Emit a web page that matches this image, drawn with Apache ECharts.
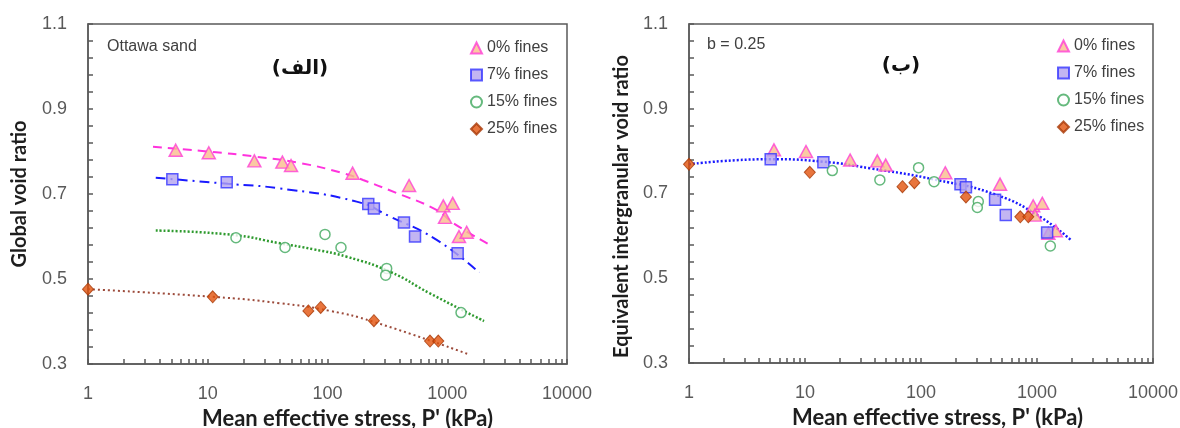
<!DOCTYPE html>
<html>
<head>
<meta charset="utf-8">
<script src="https://cdn.jsdelivr.net/npm/echarts@6/dist/echarts.min.js"></script>
<style>
html,body{margin:0;padding:0;background:#fff;}
#chart{width:1180px;height:428px;}
</style>
</head>
<body>
<div id="chart"></div>
<script>
// ---------- data ----------
const seriesNames = ['0% fines', '7% fines', '15% fines', '25% fines'];
const xTickLabels = [1, 10, 100, 1000, 10000];
const yTickLabels = [0.3, 0.5, 0.7, 0.9, 1.1];

// 0% fines
const P0  = [5.4, 10.2, 24.5, 42, 49.6, 162, 480, 927, 1111, 958, 1253, 1453];
const e0  = [0.803, 0.797, 0.778, 0.775, 0.767, 0.749, 0.720, 0.672, 0.678, 0.645, 0.600, 0.610];
const eq0 = [0.803, 0.799, 0.779, 0.777, 0.767, 0.749, 0.722, 0.671, 0.677, 0.649, 0.606, 0.612];
// 7% fines
const P7  = [5.06, 14.4, 219, 244, 435, 538, 1222];
const e7  = [0.735, 0.7275, 0.6765, 0.666, 0.633, 0.600, 0.5605];
const eq7 = [0.781, 0.774, 0.722, 0.715, 0.685, 0.649, 0.608];
// 15% fines
const P15  = [17.2, 44.2, 95.3, 129.6, 312, 306, 1303];
const e15  = [0.597, 0.574, 0.605, 0.574, 0.525, 0.509, 0.421];
const eq15 = [0.754, 0.732, 0.761, 0.728, 0.681, 0.667, 0.576];
// 25% fines
const P25  = [1.0, 11.0, 69.2, 87.7, 244, 718, 842];
const e25  = [0.476, 0.458, 0.425, 0.433, 0.402, 0.354, 0.354];
const eq25 = [0.769, 0.750, 0.716, 0.7255, 0.692, 0.645, 0.645];

// trend curves
const fit0P  = [3.49, 10, 25, 58.9, 135, 198, 380, 820, 1117, 2275];
const fit0E  = [0.811, 0.800, 0.788, 0.773, 0.749, 0.733, 0.702, 0.662, 0.632, 0.580];
const fit7P  = [3.68, 14.8, 40.1, 175, 333, 816, 1852];
const fit7E  = [0.738, 0.724, 0.713, 0.682, 0.647, 0.592, 0.515];
const fit15P = [3.68, 16, 40.1, 76.1, 144.5, 333, 718, 2027];
const fit15E = [0.614, 0.604, 0.584, 0.570, 0.5525, 0.517, 0.466, 0.401];
const fit25P = [1, 11.1, 40.1, 105, 241, 1482];
const fit25E = [0.476, 0.458, 0.443, 0.425, 0.3995, 0.3235];
const fitEqP = [1, 4.99, 14.4, 36.3, 136.5, 449, 1061, 1991];
const fitEqE = [0.769, 0.781, 0.775, 0.7595, 0.732, 0.6965, 0.645, 0.5886];

// ---------- helpers ----------
const zip = (xs, ys) => xs.map((x, i) => [x, ys[i]]);
const minorLogTicks = [];
for (let d = 0; d < 4; d++) for (let k = 1; k <= 10; k++) minorLogTicks.push(d + Math.log10(k));

const AXIS_COLOR = '#5a5a5a';
const LABEL_COLOR = '#595959';
const TITLE_FONT = 'Lato';

const styles = [
  {symbol: 'triangle', symbolSize: [13, 12], itemStyle: {color: '#f9bb8c', borderColor: '#ff3fd4', borderWidth: 1.5}},
  {symbol: 'rect', symbolSize: 11, itemStyle: {color: '#b3a3ef', borderColor: '#3535ff', borderWidth: 1.5}},
  {symbol: 'circle', symbolSize: 10, itemStyle: {color: '#ffffff', borderColor: '#3fa85c', borderWidth: 1.5}},
  {symbol: 'diamond', symbolSize: [11, 12], itemStyle: {color: '#e2520c', borderColor: '#a83a08', borderWidth: 1}}
];

function scatter(i, xIdx, yIdx, P, E) {
  return Object.assign({
    type: 'scatter', name: seriesNames[i], xAxisIndex: xIdx, yAxisIndex: yIdx,
    data: zip(P, E), z: 5, silent: true
  }, styles[i]);
}
function curve(xIdx, yIdx, P, E, color, width, dash) {
  return {
    type: 'line', xAxisIndex: xIdx, yAxisIndex: yIdx, data: zip(P, E),
    smooth: 0.5, showSymbol: false, symbol: 'none', z: 2, silent: true,
    lineStyle: {color: color, width: width, type: dash}
  };
}

function logAxis(grid, name, shift) {
  return {
    type: 'log', gridIndex: grid, logBase: 10, min: 1, max: 10000, splitNumber: 4,
    name: name, nameLocation: 'middle', nameGap: 42,
    nameTextStyle: {fontFamily: TITLE_FONT, fontWeight: 'bold', fontSize: 22, color: '#1e1e1e', padding: [0, 0, 0, shift]},
    axisLine: {show: true, lineStyle: {color: AXIS_COLOR, width: 1.5}},
    axisTick: {show: false},
    axisLabel: {margin: 21, fontSize: 18, color: LABEL_COLOR, fontFamily: 'Liberation Sans',
      customValues: xTickLabels, formatter: v => String(Math.round(v))},
    splitLine: {show: false}, minorTick: {show: false}
  };
}
function minorAxis(grid) {
  return {
    type: 'value', gridIndex: grid, min: 0, max: 4, position: 'bottom',
    axisLine: {show: false}, axisLabel: {show: false}, splitLine: {show: false},
    axisTick: {show: true, inside: true, length: 5, customValues: minorLogTicks,
      lineStyle: {color: AXIS_COLOR, width: 1.5}}
  };
}
function valueAxis(grid, name, gap, shiftDown) {
  return {
    type: 'value', gridIndex: grid, min: 0.3, max: 1.1, interval: 0.2,
    name: name, nameLocation: 'middle', nameGap: gap,
    nameTextStyle: {fontFamily: TITLE_FONT, fontWeight: 'bold', fontSize: 20, color: '#1e1e1e',
      padding: [0, 2 * shiftDown, 0, 0]},
    axisLine: {show: true, lineStyle: {color: AXIS_COLOR, width: 1.5}},
    axisTick: {show: true, inside: true, length: 5, lineStyle: {color: AXIS_COLOR, width: 1.5}},
    minorTick: {show: true, splitNumber: 5, length: 5, lineStyle: {color: AXIS_COLOR, width: 1.5}},
    axisLabel: {margin: 21, fontSize: 18, color: LABEL_COLOR, fontFamily: 'Liberation Sans',
      formatter: v => v.toFixed(1)},
    splitLine: {show: false}
  };
}
function legend(left, top) {
  return {
    data: seriesNames, orient: 'vertical', left: left, top: top,
    itemWidth: 11, itemHeight: 11, itemGap: 11, selectedMode: false,
    textStyle: {fontSize: 16, fontFamily: 'Liberation Sans', color: '#404040'}
  };
}

const option = {
  animation: false,
  backgroundColor: '#ffffff',
  grid: [
    {left: 88, top: 24, width: 479, height: 340, show: true, borderColor: AXIS_COLOR, borderWidth: 1.5,
      backgroundColor: 'transparent', containLabel: false, outerBoundsMode: 'none'},
    {left: 689, top: 24, width: 464, height: 339, show: true, borderColor: AXIS_COLOR, borderWidth: 1.5,
      backgroundColor: 'transparent', containLabel: false, outerBoundsMode: 'none'}
  ],
  xAxis: [
    logAxis(0, "Mean effective stress, P' (kPa)", 40),
    minorAxis(0),
    logAxis(1, "Mean effective stress, P' (kPa)", 33),
    minorAxis(1)
  ],
  yAxis: [
    valueAxis(0, 'Global void ratio', 58, 0),
    valueAxis(1, 'Equivalent intergranular void ratio', 57, 13)
  ],
  legend: [legend(465, 35), legend(1052, 33)],
  graphic: [
    {type: 'text', left: 107, top: 39, style: {text: 'Ottawa sand', font: '16px "Liberation Sans"', fill: '#404040'}},
    {type: 'text', left: 707, top: 37, style: {text: 'b = 0.25', font: '16px "Liberation Sans"', fill: '#404040'}},
    {type: 'text', x: 300, y: 69, style: {text: '(الف)', font: 'bold 20px "DejaVu Sans"', fill: '#111', align: 'center', verticalAlign: 'middle'}},
    {type: 'text', x: 901, y: 66, style: {text: '(ب)', font: 'bold 20px "DejaVu Sans"', fill: '#111', align: 'center', verticalAlign: 'middle'}}
  ],
  series: [
    curve(0, 0, fit0P, fit0E, '#ff33dd', 2, [9, 6]),
    curve(0, 0, fit7P, fit7E, '#1a1aff', 2, [10, 5, 2, 5]),
    curve(0, 0, fit15P, fit15E, '#2e9a2e', 2.5, [2, 2]),
    curve(0, 0, fit25P, fit25E, '#9c4a3a', 2, [2, 3]),
    scatter(0, 0, 0, P0, e0),
    scatter(1, 0, 0, P7, e7),
    scatter(2, 0, 0, P15, e15),
    scatter(3, 0, 0, P25, e25),
    curve(2, 1, fitEqP, fitEqE, '#1a1aff', 2.5, [2, 2]),
    scatter(0, 2, 1, P0, eq0),
    scatter(1, 2, 1, P7, eq7),
    scatter(2, 2, 1, P15, eq15),
    scatter(3, 2, 1, P25, eq25)
  ]
};

const chart = echarts.init(document.getElementById('chart'), null, {renderer: 'canvas'});
chart.setOption(option);
</script>
</body>
</html>
